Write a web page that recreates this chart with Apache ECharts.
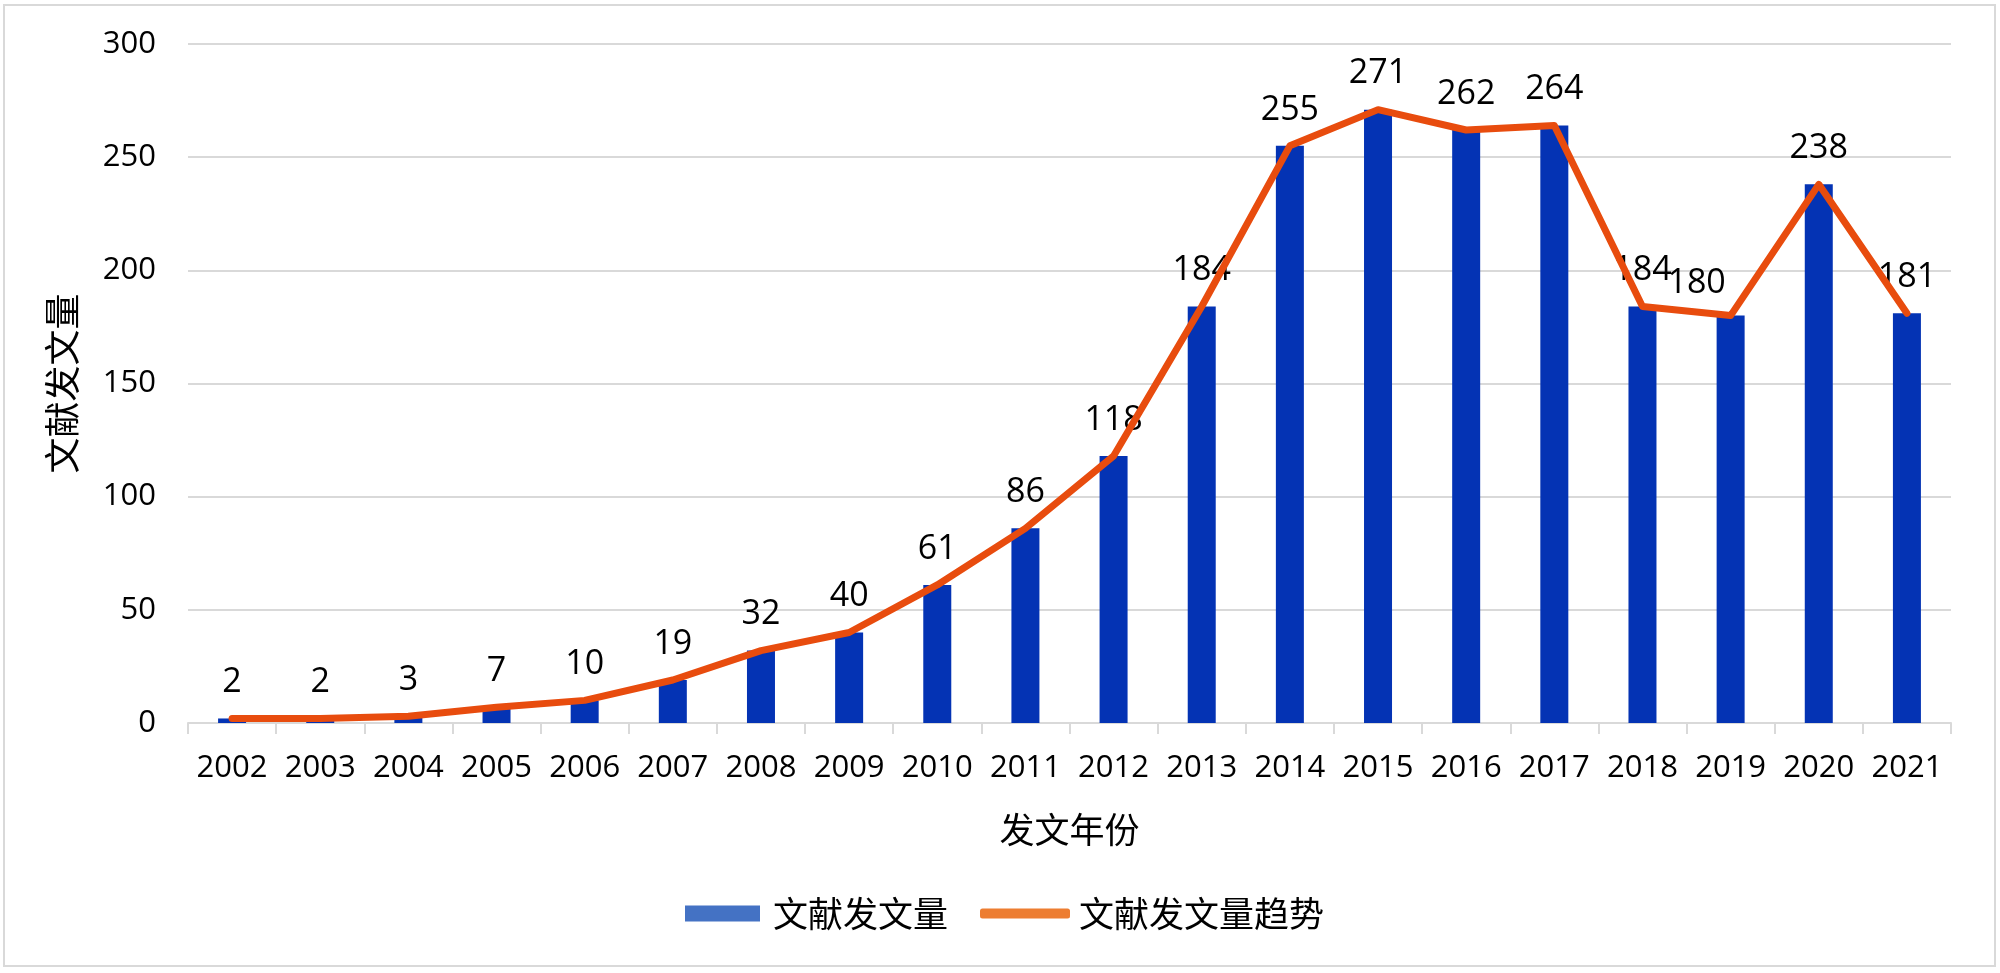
<!DOCTYPE html>
<html>
<head>
<meta charset="utf-8">
<script src="https://cdn.jsdelivr.net/npm/echarts@6/dist/echarts.min.js"></script>
<style>
html,body{margin:0;padding:0;background:#fff;}
#chart{width:2000px;height:973px;}
</style>
</head>
<body>
<div id="chart"></div>
<script>
const years = ['2002','2003','2004','2005','2006','2007','2008','2009','2010','2011','2012','2013','2014','2015','2016','2017','2018','2019','2020','2021'];
const counts = [2,2,3,7,10,19,32,40,61,86,118,184,255,271,262,264,184,180,238,181];
const barName = '文献发文量';
const lineName = '文献发文量趋势';
const yAxisName = '文献发文量';
const xAxisName = '发文年份';

const numFont = '"Open Sans", "Noto Sans", sans-serif';
const cjkFont = '"Noto Sans CJK SC", sans-serif';

// label nudges (style only) to mimic the reference's label placement
const labelOffsets = { '2019': [-34, 4] };
const barData = counts.map((v, i) => {
  const off = labelOffsets[years[i]];
  return off ? { value: v, label: { offset: off } } : v;
});

const chart = echarts.init(document.getElementById('chart'));
chart.setOption({
  animation: false,
  backgroundColor: '#ffffff',
  graphic: [{
    type: 'rect',
    shape: { x: 4, y: 5, width: 1991, height: 961 },
    style: { fill: 'none', stroke: '#D9D9D9', lineWidth: 2 },
    silent: true
  }],
  grid: { left: 188, right: 49, top: 44, bottom: 250, containLabel: false },
  legend: [{
    data: [{ name: barName, icon: 'rect', itemStyle: { color: '#4472C4' } }],
    left: 680, top: 891,
    itemWidth: 75, itemHeight: 16,
    textStyle: { fontFamily: cjkFont, fontSize: 35, color: '#000', padding: [0, 0, 0, 8] }
  }, {
    data: [{ name: lineName, icon: 'roundRect', itemStyle: { color: '#ED7D31' } }],
    left: 975, top: 891,
    itemWidth: 90, itemHeight: 10,
    textStyle: { fontFamily: cjkFont, fontSize: 35, color: '#000', padding: [0, 0, 0, 4] }
  }],
  xAxis: {
    type: 'category',
    data: years,
    boundaryGap: true,
    name: xAxisName,
    nameLocation: 'middle',
    nameGap: 89,
    nameTextStyle: { fontFamily: cjkFont, fontSize: 35, color: '#000' },
    axisLine: { lineStyle: { color: '#D9D9D9', width: 2 } },
    axisTick: { show: true, length: 11, lineStyle: { color: '#D9D9D9', width: 2 } },
    axisLabel: { fontFamily: numFont, fontSize: 31, color: '#000', margin: 30, interval: 0 }
  },
  yAxis: {
    type: 'value',
    min: 0, max: 300, interval: 50,
    name: yAxisName,
    nameLocation: 'middle',
    nameGap: 108,
    nameRotate: 90,
    nameTextStyle: { fontFamily: cjkFont, fontSize: 36, color: '#000' },
    axisLine: { show: false },
    axisTick: { show: false },
    splitLine: { lineStyle: { color: '#D9D9D9', width: 2 } },
    axisLabel: { fontFamily: numFont, fontSize: 31, color: '#000', margin: 32 }
  },
  series: [{
    name: barName,
    type: 'bar',
    data: barData,
    barWidth: 28,
    itemStyle: { color: '#0433B4' },
    label: {
      show: true,
      position: 'top',
      distance: 19,
      fontFamily: numFont,
      fontSize: 34,
      color: '#000'
    },
    z: 2
  }, {
    name: lineName,
    type: 'line',
    data: counts,
    symbol: 'none',
    showSymbol: false,
    lineStyle: { color: '#E84C0E', width: 7, cap: 'round', join: 'round' },
    itemStyle: { color: '#E84C0E' },
    z: 3
  }]
});
</script>
</body>
</html>
